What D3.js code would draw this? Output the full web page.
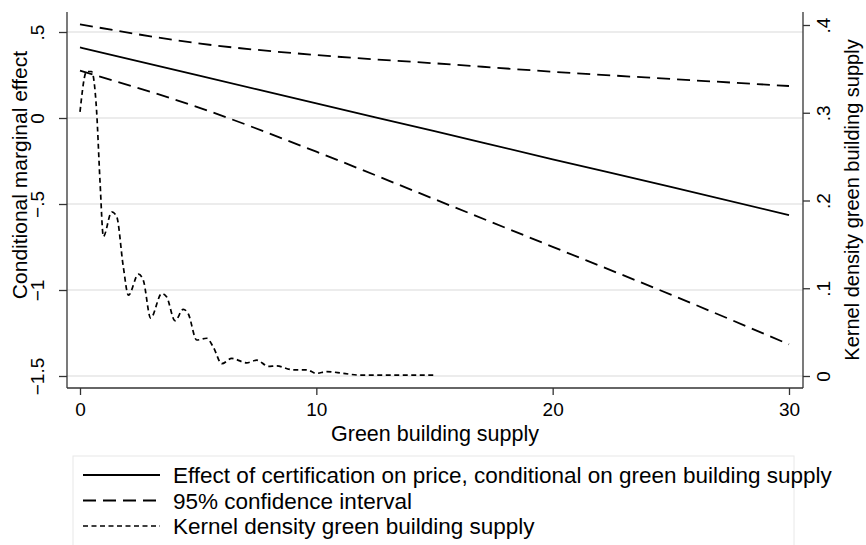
<!DOCTYPE html>
<html>
<head>
<meta charset="utf-8">
<script src="https://cdn.jsdelivr.net/npm/d3@7"></script>
<style>
  body { margin: 0; background: #fff; }
  text { font-family: "Liberation Sans", Arial, sans-serif; fill: #000; }
</style>
</head>
<body>
<script>
// data
const supply = [0, 5, 10, 15, 20, 25, 30]
const effect = [0.41, 0.248, 0.085, -0.077, -0.24, -0.40, -0.565]
const ciUpper = [0.545, 0.434, 0.366, 0.318, 0.269, 0.227, 0.186]
const ciLower = [0.275, 0.062, -0.196, -0.472, -0.749, -1.027, -1.316]

const kdX = [0, 0.28, 0.49, 0.70, 0.85, 0.99, 1.34, 1.55, 1.83, 2.05, 2.47, 2.68, 2.99, 3.46, 3.67,
  4.02, 4.37, 4.58, 4.94, 5.36, 5.64, 6.0, 6.42, 7.05, 7.48, 7.97, 8.3, 9.03, 9.59, 10.0, 10.44,
  11.14, 11.85, 13.26, 14.1, 14.95]
const kdY = [0.301, 0.347, 0.347, 0.303, 0.22, 0.159, 0.187, 0.182, 0.125, 0.092, 0.116, 0.109, 0.066, 0.094, 0.090,
  0.063, 0.076, 0.071, 0.041, 0.043, 0.033, 0.014, 0.020, 0.015, 0.018, 0.011, 0.0115, 0.007, 0.007, 0.003, 0.005,
  0.003, 0.001, 0.001, 0.001, 0.001]

const xTicks = [0, 10, 20, 30]
const yLeftTicks = [0.5, 0, -0.5, -1, -1.5]
const yLeftLabels = ['.5', '0', '\u2212.5', '\u22121', '\u22121.5']
const yRightTicks = [0, 0.1, 0.2, 0.3, 0.4]
const yRightLabels = ['0', '.1', '.2', '.3', '.4']

const legendItems = [
  { label: 'Effect of certification on price, conditional on green building supply', dash: null, width: 1.8 },
  { label: '95% confidence interval', dash: '13 7', width: 1.8 },
  { label: 'Kernel density green building supply', dash: '5 3.5', width: 1.7 },
]

const width = 866
const height = 545
const plot = { left: 67, right: 803, top: 12, bottom: 388 }

const svg = d3.select('body').append('svg')
  .attr('width', width)
  .attr('height', height)
  .attr('viewBox', [0, 0, width, height])

const x = d3.scaleLinear().domain([0, 30]).range([80, 789])
const yL = d3.scaleLinear().domain([-1.5, 0.5]).range([376, 32])
const yR = d3.scaleLinear().domain([0, 0.4]).range([376, 25])

// gridlines
svg.append('g')
  .selectAll('line')
  .data(yLeftTicks)
  .join('line')
    .attr('x1', plot.left)
    .attr('x2', plot.right)
    .attr('y1', d => yL(d))
    .attr('y2', d => yL(d))
    .attr('stroke', '#e6e6e6')
    .attr('stroke-width', 1.5)

const axisColor = '#333'
const tickFont = '19px'

// left axis
const gL = svg.append('g').attr('transform', `translate(${plot.left},0)`)
  .call(d3.axisLeft(yL).tickValues(yLeftTicks).tickSize(8).tickFormat((d, i) => yLeftLabels[i]))
gL.select('.domain').attr('d', `M0,${plot.top}V${plot.bottom}`)
gL.selectAll('text')
  .attr('transform', 'rotate(-90)')
  .attr('x', 0).attr('y', -23)
  .attr('dy', null)
  .attr('text-anchor', 'middle')
  .style('font-size', tickFont)

// right axis
const gR = svg.append('g').attr('transform', `translate(${plot.right},0)`)
  .call(d3.axisRight(yR).tickValues(yRightTicks).tickSize(7).tickFormat((d, i) => yRightLabels[i]))
gR.select('.domain').attr('d', `M0,${plot.top}V${plot.bottom}`)
gR.selectAll('text')
  .attr('transform', 'rotate(-90)')
  .attr('x', 0).attr('y', 27)
  .attr('dy', null)
  .attr('text-anchor', 'middle')
  .style('font-size', tickFont)

// bottom axis
const gB = svg.append('g').attr('transform', `translate(0,${plot.bottom})`)
  .call(d3.axisBottom(x).tickValues(xTicks).tickSize(7))
gB.select('.domain').attr('d', `M${plot.left},0H${plot.right}`)
gB.selectAll('text')
  .attr('y', 28)
  .attr('dy', null)
  .style('font-size', tickFont)

svg.selectAll('.domain, .tick line').attr('stroke', axisColor).attr('stroke-width', 1.3)
svg.selectAll('.tick text').attr('fill', '#000').style('font-family', '"Liberation Sans", Arial, sans-serif')

// axis titles
svg.append('text')
  .attr('x', 435).attr('y', 441)
  .attr('text-anchor', 'middle')
  .style('font-size', '21.5px')
  .text('Green building supply')

svg.append('text')
  .attr('transform', `translate(27,${175}) rotate(-90)`)
  .attr('text-anchor', 'middle')
  .style('font-size', '21px')
  .text('Conditional marginal effect')

svg.append('text')
  .attr('transform', `translate(859,${200}) rotate(-90)`)
  .attr('text-anchor', 'middle')
  .style('font-size', '20px')
  .text('Kernel density green building supply')

// lines
const lineL = (vals) => d3.line().x((d, i) => x(supply[i])).y(d => yL(d)).curve(d3.curveMonotoneX)(vals)

svg.append('path')
  .attr('d', lineL(effect))
  .attr('fill', 'none').attr('stroke', '#000').attr('stroke-width', legendItems[0].width)

;[ciUpper, ciLower].forEach(vals => {
  svg.append('path')
    .attr('d', lineL(vals))
    .attr('fill', 'none').attr('stroke', '#000')
    .attr('stroke-width', legendItems[1].width)
    .attr('stroke-dasharray', legendItems[1].dash)
})

const kdLine = d3.line()
  .x((d, i) => x(kdX[i]))
  .y(d => yR(d))
  .curve(d3.curveMonotoneX)

svg.append('path')
  .attr('d', kdLine(kdY))
  .attr('fill', 'none').attr('stroke', '#000')
  .attr('stroke-width', legendItems[2].width)
  .attr('stroke-dasharray', legendItems[2].dash)

// legend
const legend = svg.append('g')
legend.append('rect')
  .attr('x', 73).attr('y', 456)
  .attr('width', 721).attr('height', 100)
  .attr('fill', '#fff')
  .attr('stroke', '#e8e8e8')
  .attr('stroke-width', 1)

const row = legend.selectAll('g.row')
  .data(legendItems)
  .join('g')
    .attr('class', 'row')
    .attr('transform', (d, i) => `translate(0,${475 + i * 25.5})`)

row.append('line')
  .attr('x1', 83).attr('x2', 160)
  .attr('stroke', '#000')
  .attr('stroke-width', d => d.width)
  .attr('stroke-dasharray', d => d.dash)

row.append('text')
  .attr('x', 173)
  .attr('dy', '0.36em')
  .style('font-size', '22.5px')
  .text(d => d.label)
</script>
</body>
</html>
